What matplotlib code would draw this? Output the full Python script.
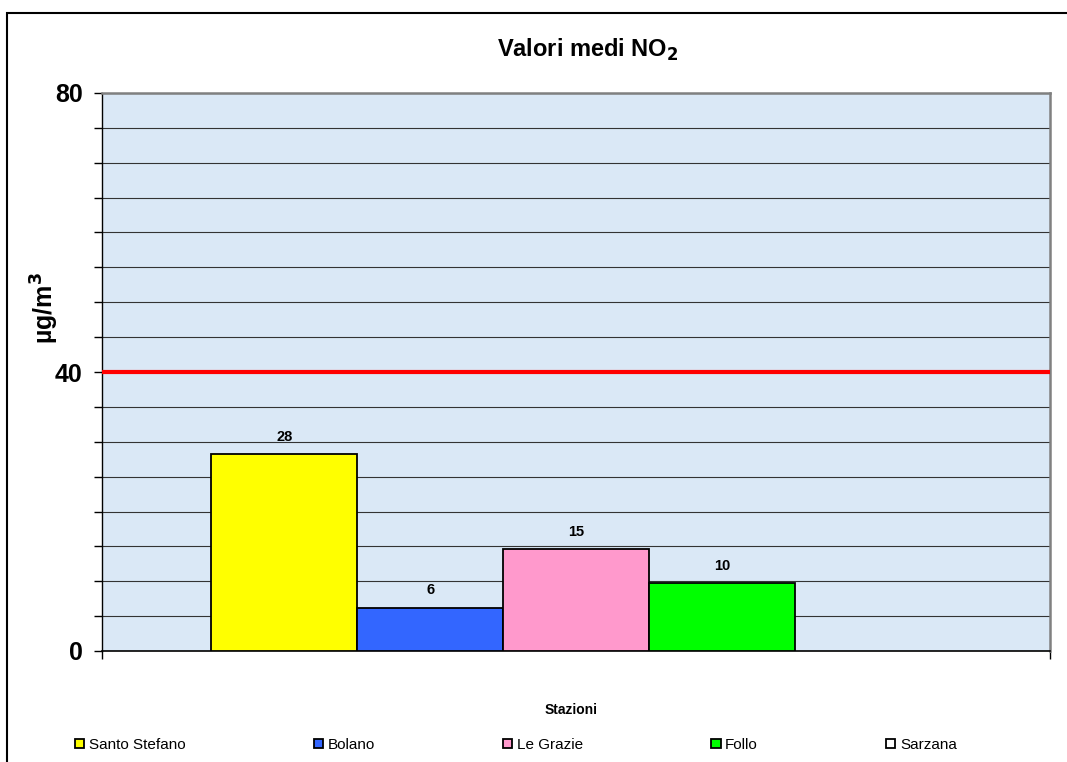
import numpy as np
import matplotlib
matplotlib.use('Agg')
import matplotlib.pyplot as plt
from matplotlib.patches import Rectangle

plt.rcParams['font.family'] = ['Liberation Sans', 'DejaVu Sans']

stations = ['Santo Stefano', 'Bolano', 'Le Grazie', 'Follo', 'Sarzana']
values = [28.2, 6.2, 14.6, 9.7, np.nan]
colors = ['#ffff00', '#3366ff', '#ff99cc', '#00ff00', '#ffffff']
limit = 40

W, H = 1067, 762
fig = plt.figure(figsize=(W / 100, H / 100), dpi=100)
ax = fig.add_axes([102 / W, 1 - 651 / H, (1050 - 102) / W, (651 - 93) / H])
ax.set_facecolor('#dae8f6')

x = np.arange(len(stations))
bars = ax.bar(x, values, width=1.0, color=colors, edgecolor='black', linewidth=1.3, zorder=3)
for xi, v in zip(x, values):
    if not np.isnan(v):
        ax.text(xi, v + 1.5, '%d' % round(v), ha='center', va='bottom',
                fontsize=10.5, fontweight='bold', zorder=4)

ax.axhline(limit, color='#ff0000', lw=3, zorder=5)

ax.set_xlim(-0.5 - 0.75, len(stations) - 0.5 + 0.75)
ax.set_ylim(0, 80)
ax.set_yticks([0, 40, 80])
ax.set_yticks(np.arange(0, 81, 5), minor=True)
ax.set_yticklabels(['0', '40', '80'], fontsize=18, fontweight='bold')
ax.tick_params(axis='y', which='both', direction='out', length=6, width=1, pad=8)
ax.set_xticks([-1.25, len(stations) - 0.5 + 0.75])
ax.set_xticklabels([])
ax.tick_params(axis='x', direction='out', length=6, width=1)
ax.grid(axis='y', which='both', color='#333333', lw=0.8, zorder=1)
ax.set_axisbelow(True)

ax.spines['top'].set_color('#808080')
ax.spines['right'].set_color('#808080')
ax.spines['top'].set_linewidth(1.8)
ax.spines['right'].set_linewidth(1.8)
ax.spines['left'].set_linewidth(1.0)
ax.spines['bottom'].set_linewidth(1.2)

fig.text(588 / W, 1 - 50 / H, 'Valori medi NO$_\\mathbf{2}$', ha='center', va='center',
         fontsize=17, fontweight='bold')
fig.text(45 / W, 1 - 308 / H, 'µg/m$^\\mathbf{3}$', ha='center', va='center', rotation=90,
         fontsize=18, fontweight='bold')
fig.text(571 / W, 1 - 710 / H, 'Stazioni', ha='center', va='center',
         fontsize=10, fontweight='bold')

leg = fig.legend(bars, stations, loc='center', bbox_to_anchor=(516 / W, 1 - 745 / H),
                 ncol=5, frameon=False, fontsize=11, handlelength=0.6, handleheight=0.6,
                 handletextpad=0.3, columnspacing=8.4)

fig.patches.append(Rectangle((7 / W, -0.05), 1.1, 1 - 13 / H + 0.05, transform=fig.transFigure,
                             fill=False, edgecolor='black', lw=1.5, figure=fig))

fig.savefig('out.png', dpi=100)
